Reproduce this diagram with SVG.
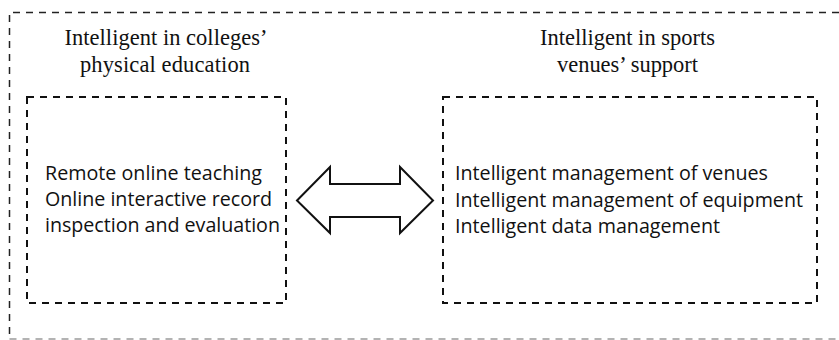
<svg xmlns="http://www.w3.org/2000/svg" width="839" height="340" viewBox="0 0 839 340">
  <style>
    .frame { fill: none; stroke: #222; stroke-width: 1.5; stroke-dasharray: 7 6; }
    .frame-base { fill: none; stroke: #9a9a9a; stroke-width: 1.5; stroke-dasharray: 7 6; }
    .box { fill: none; stroke: #111; stroke-width: 2; stroke-dasharray: 7 6; }
    .title { font-family: "Liberation Serif", "Times New Roman", serif; font-size: 22.5px; fill: #111; text-anchor: middle; }
    .item { font-family: "Open Sans", "Liberation Sans", sans-serif; font-size: 19.7px; fill: #111; }
    .arrow { fill: #fff; stroke: #111; stroke-width: 2; stroke-linejoin: miter; }
  </style>
  <rect width="839" height="340" fill="#fff"/>

  <!-- outer dashed frame (open on the right) -->
  <g id="frame">
    <path class="frame" d="M839 12.5 H9.5 V339"/>
    <path class="frame-base" d="M9.5 339 H839"/>
  </g>

  <!-- left: physical education -->
  <g id="pe">
    <text class="title" x="166" y="45" textLength="203">Intelligent in colleges’</text>
    <text class="title" x="165" y="72" textLength="170">physical education</text>
    <rect class="box" x="27" y="97" width="259" height="206"/>
    <text class="item" x="45" y="180" textLength="217">Remote online teaching</text>
    <text class="item" x="45" y="206" textLength="227">Online interactive record</text>
    <text class="item" x="45" y="232" textLength="235">inspection and evaluation</text>
  </g>

  <!-- right: sports venues -->
  <g id="venues">
    <text class="title" x="627.5" y="45" textLength="175">Intelligent in sports</text>
    <text class="title" x="627.5" y="72" textLength="141">venues’ support</text>
    <rect class="box" x="443" y="97" width="374" height="206"/>
    <text class="item" x="455" y="180" textLength="313">Intelligent management of venues</text>
    <text class="item" x="455" y="207" textLength="348">Intelligent management of equipment</text>
    <text class="item" x="455" y="233" textLength="265">Intelligent data management</text>
  </g>

  <!-- two-way block arrow between the boxes -->
  <g id="connectors">
    <path class="arrow" d="M297 200.5 L330 167 V184 H400 V167 L433 200.5 L400 233 V217 H330 V233 Z"/>
  </g>
</svg>
